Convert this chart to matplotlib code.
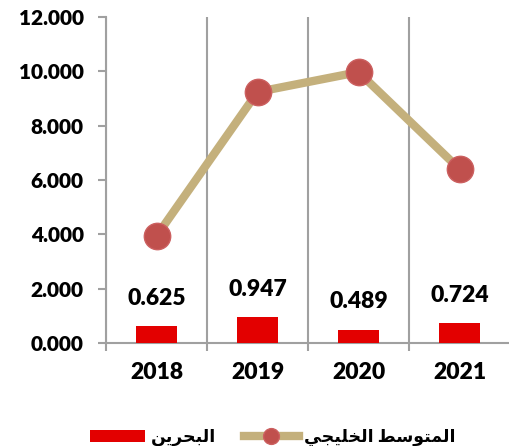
import matplotlib.pyplot as plt
from matplotlib.ticker import FormatStrFormatter
import numpy as np

# البيانات
years = ["2018", "2019", "2020", "2021"]
bahrain = [0.625, 0.947, 0.489, 0.724]
gulf_avg = [3.94, 9.24, 9.97, 6.40]

# نص عربي بأشكال العرض (matplotlib لا يدعم تشكيل الحروف العربية)
lbl_bahrain = "\uFEE6\uFEF3\uFEAE\uFEA4\uFE92\uFEDF\uFE8D"   # البحرين
lbl_gulf = ("\uFEF2\uFEA0\uFEF4\uFEE0\uFEA8\uFEDF\uFE8D" + " " +
            "\uFEC2\uFEB3\uFEEE\uFE98\uFEE4\uFEDF\uFE8D")       # المتوسط الخليجي

plt.rcParams['font.family'] = ['Lato', 'DejaVu Sans']
plt.rcParams['font.weight'] = 'heavy'

fig = plt.figure(figsize=(5.1, 4.46), dpi=100)
ax = fig.add_axes([0.208, 0.231, 0.792, 0.731])

x = np.arange(len(years))
bars = ax.bar(x, bahrain, width=0.4, color='#E30000', zorder=3, label=lbl_bahrain)
line, = ax.plot(x, gulf_avg, color='#C4B07C', linewidth=6, marker='o',
                markersize=19, markerfacecolor='#C0504D', markeredgecolor='#CC6060',
                markeredgewidth=1, zorder=4, label=lbl_gulf)

for xi, v in zip(x, bahrain):
    ax.annotate(f"{v:.3f}", (xi, v), xytext=(0, 20), textcoords='offset points',
                ha='center', va='center', fontsize=16.5)

ax.set_xlim(-0.5, 3.5)
ax.set_ylim(0, 12)
ax.set_yticks(np.arange(0, 13, 2))
ax.yaxis.set_major_formatter(FormatStrFormatter('%.3f'))

ax.set_xticks(x)
ax.set_xticklabels(years)
ax.set_xticks([-0.5, 0.5, 1.5, 2.5], minor=True)
ax.tick_params(axis='x', which='major', length=0, pad=14, labelsize=16.5)
ax.tick_params(axis='x', which='minor', length=6, color='#A0A0A0', width=1.5)
ax.tick_params(axis='y', length=6, color='#A0A0A0', width=1.5, labelsize=15, pad=10)
ax.grid(axis='x', which='minor', color='#A0A0A0', linewidth=1.5, zorder=0)

for s in ['top', 'right']:
    ax.spines[s].set_visible(False)
for s in ['left', 'bottom']:
    ax.spines[s].set_color('#A0A0A0')
    ax.spines[s].set_linewidth(1.5)

fig.legend(handles=[bars, line], loc='lower center', bbox_to_anchor=(0.535, -0.035),
           ncol=2, frameon=False, fontsize=12.5, handlelength=3.2, columnspacing=1.6,
           handletextpad=0.3, markerscale=0.6)

fig.savefig("out.png", dpi=100)
